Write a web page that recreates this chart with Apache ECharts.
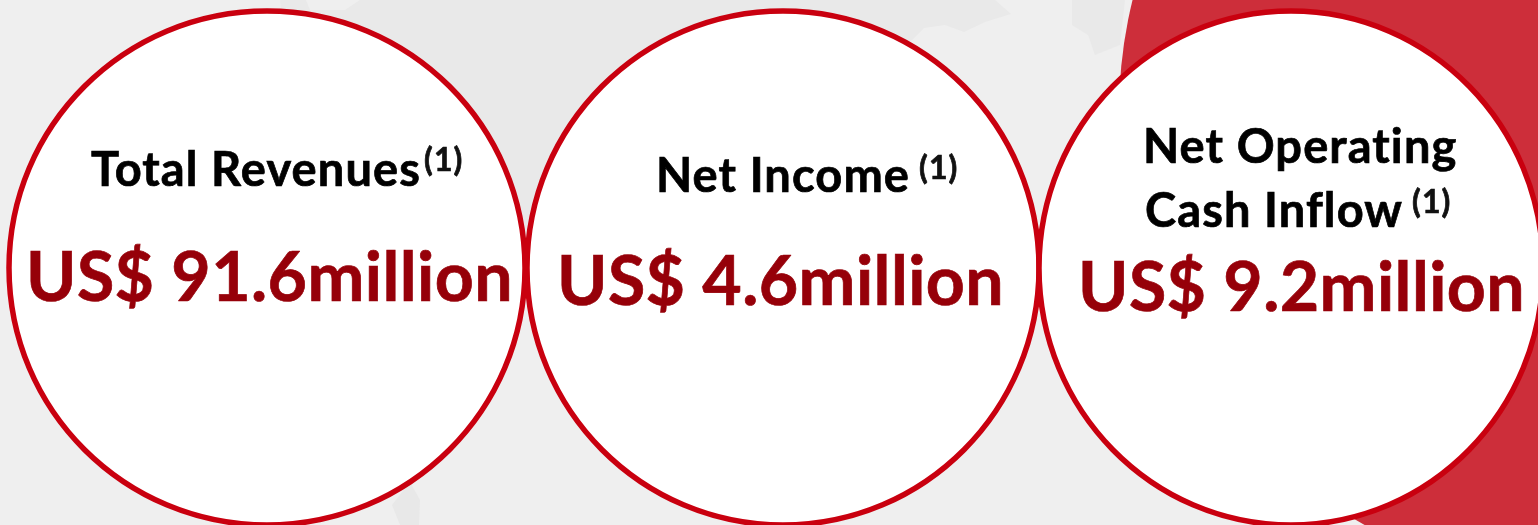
<!DOCTYPE html>
<html>
<head>
<meta charset="utf-8">
<style>html,body{margin:0;padding:0;background:#efefef}#c{width:1538px;height:525px}</style>
<script src="https://cdn.jsdelivr.net/npm/echarts@6/dist/echarts.min.js"></script>
</head>
<body>
<div id="c"></div>
<script>
// Headline figures for the period, in US$ million
const metrics = ['Total Revenues', 'Net Income', 'Net Operating Cash Inflow'];
const amounts = [91.6, 4.6, 9.2];
const footnote = '(1)';
const unit = 'million';
const currency = 'US$';

// Disc geometry and text anchors per metric
const discs = [
  {cx: 267, cy: 268, rx: 258, ry: 257},
  {cx: 783, cy: 268, rx: 256, ry: 257},
  {cx: 1291, cy: 268, rx: 252, ry: 257}
];
const titleLines = [
  [{text: 'Total Revenues', x: 91, y: 171, note: {x: 424, y: 161}}],
  [{text: 'Net Income', x: 656, y: 177, note: {x: 919, y: 169}}],
  [{text: 'Net Operating', x: 1143, y: 148},
   {text: 'Cash Inflow', x: 1145, y: 212, note: {x: 1412, y: 203}}]
];
const valueAnchors = [{x: 26, y: 279}, {x: 557, y: 283}, {x: 1078, y: 289}];

// Tracking for the text: a tighter spacing for the big figures, wider for the headings
const nativeFill = CanvasRenderingContext2D.prototype.fillText;
const nativeStroke = CanvasRenderingContext2D.prototype.strokeText;
const nativeMeasure = CanvasRenderingContext2D.prototype.measureText;
function track(ctx) {
  const m = /(\d+(?:\.\d+)?)px/.exec(ctx.font);
  ctx.letterSpacing = m && parseFloat(m[1]) > 60 ? '0.4px' : '1.1px';
}
CanvasRenderingContext2D.prototype.fillText = function () { track(this); return nativeFill.apply(this, arguments); };
CanvasRenderingContext2D.prototype.strokeText = function () { track(this); return nativeStroke.apply(this, arguments); };
CanvasRenderingContext2D.prototype.measureText = function () { track(this); return nativeMeasure.apply(this, arguments); };

const FONT = 'Lato, "Open Sans", sans-serif';
const chart = echarts.init(document.getElementById('c'));

function label(text, x, y, size, color) {
  return {type: 'text', style: {text, x, y, font: 'bold ' + size + 'px ' + FONT, fill: color,
    stroke: color, lineWidth: 0.7, textAlign: 'left', textVerticalAlign: 'middle'}};
}

function drawMetric(params, api) {
  const i = api.value(0);
  const d = discs[i];
  const kids = [{
    type: 'ellipse',
    shape: {cx: d.cx, cy: d.cy, rx: d.rx, ry: d.ry},
    style: {fill: '#fff', stroke: '#c9000f', lineWidth: 5.5}
  }];
  titleLines[i].forEach(l => {
    kids.push(label(l.text, l.x, l.y, 47, '#000'));
    if (l.note) kids.push(label(footnote, l.note.x, l.note.y, 32, '#111'));
  });
  const a = valueAnchors[i];
  kids.push(label(currency + ' ' + amounts[i].toFixed(1) + unit, a.x, a.y, 68, '#960009'));
  return {type: 'group', children: kids};
}

chart.setOption({
  animation: false,
  backgroundColor: '#efefef',
  graphic: {elements: [
    // Faint world-map texture behind the discs
    {type: 'polygon', z: 0, shape: {points: [[280,0],[995,0],[1011,14],[985,22],[964,32],[945,25],[924,28],[912,40],[880,60],[880,200],[530,300],[300,200]]}, style: {fill: '#e9e9e9'}},
    {type: 'polygon', z: 0, shape: {points: [[306,0],[360,0],[345,10],[310,10]]}, style: {fill: '#efefef'}},
    {type: 'polygon', z: 0, shape: {points: [[1072,0],[1125,0],[1120,45],[1095,55],[1088,35],[1072,25]]}, style: {fill: '#e9e9e9'}},
    {type: 'polygon', z: 0, shape: {points: [[410,482],[420,500],[419,525],[400,525],[392,505]]}, style: {fill: '#e8e8e8'}},
    // Red backdrop arc on the right
    {type: 'circle', z: 0, shape: {cx: 1589, cy: 112, r: 470}, style: {fill: '#cd2e3a'}}
  ]},
  series: [{
    type: 'custom',
    coordinateSystem: 'none',
    silent: true,
    z: 2,
    data: metrics.map((m, i) => ({name: m, value: [i, amounts[i]]})),
    renderItem: drawMetric
  }]
});
</script>
</body>
</html>
